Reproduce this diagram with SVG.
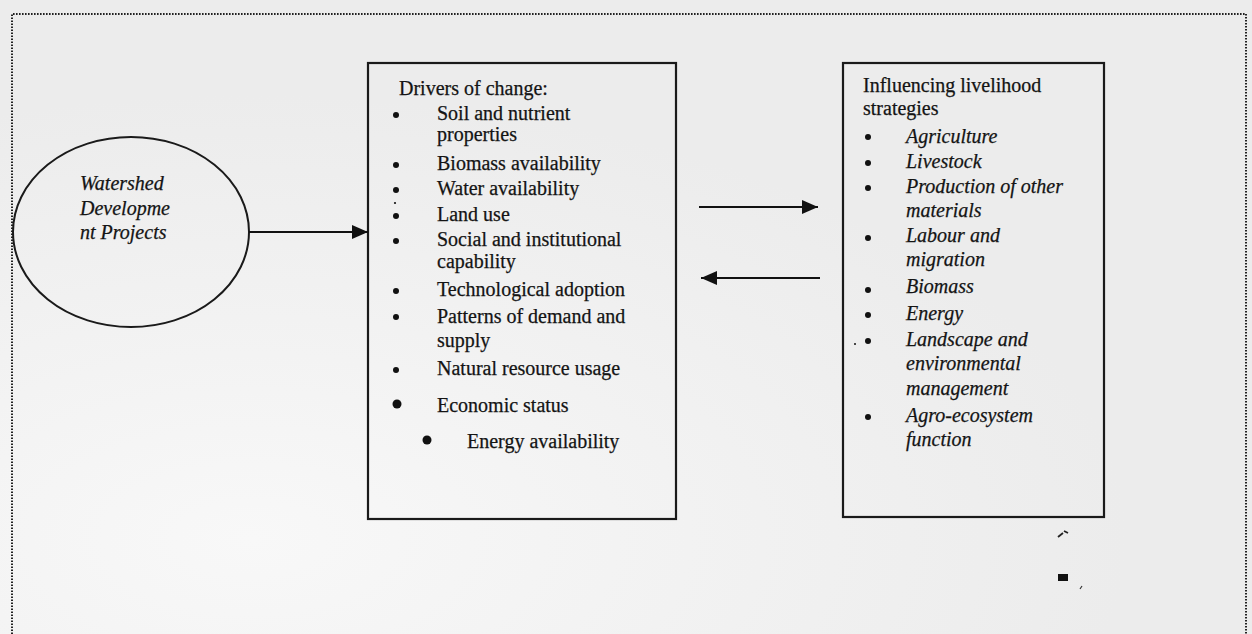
<svg xmlns="http://www.w3.org/2000/svg" width="1252" height="634" viewBox="0 0 1252 634">
  <defs>
    <style>
      .t { font-family: "Liberation Serif", "Times New Roman", serif; font-size: 20px; fill: #141414; stroke: #141414; stroke-width: 0.25; }
      .i { font-style: italic; }
      .box { fill: none; stroke: #1a1a1a; stroke-width: 2.2; }
      .conn { stroke: #111; stroke-width: 2; fill: none; }
      .dot { fill: #111; }
    </style>
    <marker id="ah" viewBox="0 0 16 14" refX="16" refY="7" markerWidth="16" markerHeight="14" markerUnits="userSpaceOnUse" orient="auto">
      <path d="M0,0 L16,7 L0,14 Z" fill="#111"/>
    </marker>
    <radialGradient id="bg" cx="0.2" cy="0.85" r="0.7">
      <stop offset="0" stop-color="#f8f8f8"/>
      <stop offset="1" stop-color="#ececec"/>
    </radialGradient>
  </defs>

  <rect x="0" y="0" width="1252" height="634" fill="url(#bg)"/>

  <g id="frame">
    <path d="M12,640 L12,14 L1246,14 L1246,640" fill="none" stroke="#222" stroke-width="2" stroke-dasharray="1.6 1.4"/>
  </g>

  <g id="watershed">
    <ellipse cx="131" cy="232" rx="118" ry="95" fill="none" stroke="#1a1a1a" stroke-width="2"/>
    <text class="t i" x="80" y="190">Watershed</text>
    <text class="t i" x="80" y="215">Developme</text>
    <text class="t i" x="80" y="239">nt Projects</text>
  </g>

  <g id="drivers">
    <rect class="box" x="368" y="63" width="308" height="456"/>
    <text class="t" x="399" y="95">Drivers of change:</text>
    <circle class="dot" cx="396" cy="115" r="3"/>
    <text class="t" x="437" y="120">Soil and nutrient</text>
    <text class="t" x="437" y="141">properties</text>
    <circle class="dot" cx="396" cy="165" r="3"/>
    <text class="t" x="437" y="170">Biomass availability</text>
    <circle class="dot" cx="396" cy="190" r="3"/>
    <text class="t" x="437" y="195">Water availability</text>
    <circle class="dot" cx="395" cy="203" r="1.1"/>
    <circle class="dot" cx="396" cy="216" r="3"/>
    <text class="t" x="437" y="221">Land use</text>
    <circle class="dot" cx="396" cy="241" r="3"/>
    <text class="t" x="437" y="246">Social and institutional</text>
    <text class="t" x="437" y="268">capability</text>
    <path d="M518,236 L520,240" stroke="#333" stroke-width="1.2"/>
    <circle class="dot" cx="396" cy="291" r="3"/>
    <text class="t" x="437" y="296">Technological adoption</text>
    <circle class="dot" cx="396" cy="317" r="3"/>
    <text class="t" x="437" y="323">Patterns of demand and</text>
    <text class="t" x="437" y="347">supply</text>
    <circle class="dot" cx="396" cy="370" r="3"/>
    <text class="t" x="437" y="375">Natural resource usage</text>
    <circle class="dot" cx="397" cy="404" r="4.5"/>
    <text class="t" x="437" y="412">Economic status</text>
    <circle class="dot" cx="427" cy="440" r="4.5"/>
    <text class="t" x="467" y="448">Energy availability</text>
  </g>

  <g id="strategies">
    <rect class="box" x="843" y="63" width="261" height="454"/>
    <text class="t" x="863" y="92">Influencing livelihood</text>
    <text class="t" x="863" y="115">strategies</text>
    <circle class="dot" cx="868" cy="137" r="3"/>
    <text class="t i" x="906" y="143">Agriculture</text>
    <circle class="dot" cx="868" cy="163" r="3"/>
    <text class="t i" x="906" y="168">Livestock</text>
    <circle class="dot" cx="868" cy="188" r="3"/>
    <text class="t i" x="906" y="193">Production of other</text>
    <text class="t i" x="906" y="217">materials</text>
    <circle class="dot" cx="868" cy="238" r="3"/>
    <text class="t i" x="906" y="242">Labour and</text>
    <text class="t i" x="906" y="266">migration</text>
    <circle class="dot" cx="868" cy="290" r="3"/>
    <text class="t i" x="906" y="293">Biomass</text>
    <circle class="dot" cx="868" cy="315" r="3"/>
    <text class="t i" x="906" y="320">Energy</text>
    <circle class="dot" cx="855" cy="344" r="1"/>
    <circle class="dot" cx="868" cy="341" r="3"/>
    <text class="t i" x="906" y="346">Landscape and</text>
    <text class="t i" x="906" y="370">environmental</text>
    <text class="t i" x="906" y="395">management</text>
    <circle class="dot" cx="868" cy="417" r="3"/>
    <text class="t i" x="906" y="422">Agro-ecosystem</text>
    <text class="t i" x="906" y="446">function</text>
  </g>

  <g id="connectors">
    <line class="conn" x1="249" y1="232" x2="368" y2="232" marker-end="url(#ah)"/>
    <line class="conn" x1="699" y1="207" x2="818" y2="207" marker-end="url(#ah)"/>
    <line class="conn" x1="820" y1="278" x2="701" y2="278" marker-end="url(#ah)"/>
  </g>

  <g id="specks">
    <path d="M1058,537 L1063,533 M1064,531 L1068,533" stroke="#222" stroke-width="1.8"/>
    <rect x="1058" y="574" width="10" height="7" fill="#111"/>
    <path d="M1080,589 L1082,586" stroke="#333" stroke-width="1.2"/>
  </g>
</svg>
